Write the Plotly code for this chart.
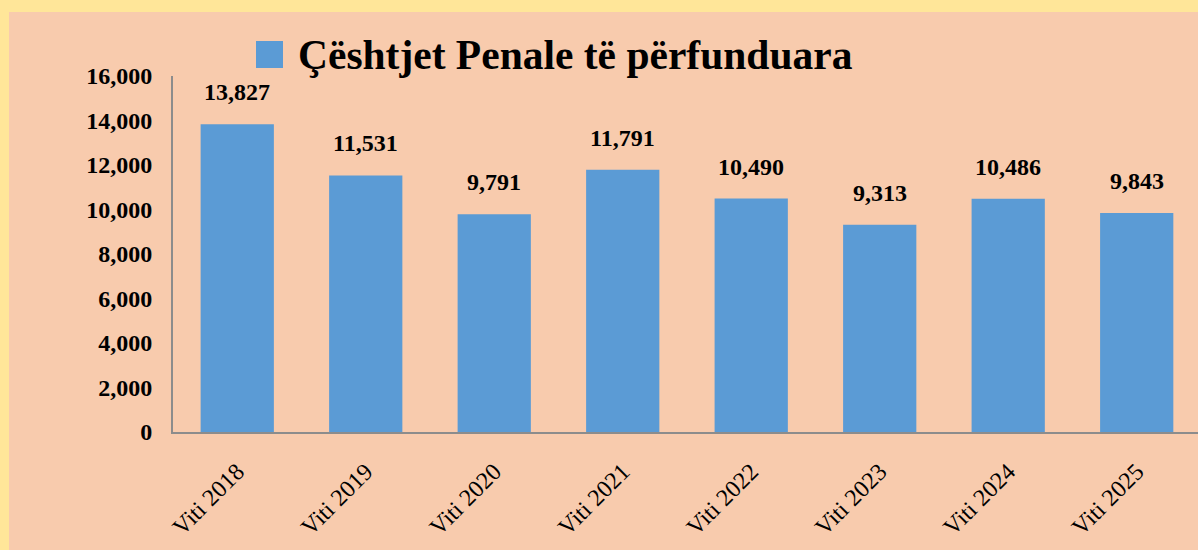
import plotly.graph_objects as go

categories = ["Viti 2018", "Viti 2019", "Viti 2020", "Viti 2021",
              "Viti 2022", "Viti 2023", "Viti 2024", "Viti 2025"]
values = [13827, 11531, 9791, 11791, 10490, 9313, 10486, 9843]
series_name = "Çështjet Penale të përfunduara"
y_ticks = [0, 2000, 4000, 6000, 8000, 10000, 12000, 14000, 16000]

W, H = 1198, 550
ML, MR, MT, MB = 173, 0, 76, 118
PW = W - ML - MR
PH = H - MT - MB

def px_x(p):
    return (p - ML) / PW

def px_y(p):
    return 1 - (p - MT) / PH

PEACH = "#F8CBAD"
YELLOW = "#FFE699"
BLUE = "#5B9BD5"
AXIS = "#8C8C8C"
FONT = "Liberation Serif"

fig = go.Figure()
fig.add_trace(go.Bar(
    x=categories, y=values, name=series_name,
    marker=dict(color=BLUE, line=dict(width=0)),
    width=0.57, showlegend=False, hoverinfo="skip",
))

annotations = []
for c, v in zip(categories, values):
    annotations.append(dict(
        x=c, y=v, xref="x", yref="y", text=f"{v:,}", showarrow=False,
        yanchor="bottom", yshift=17,
        font=dict(family=FONT, size=24, color="black", weight="bold"),
    ))
annotations.append(dict(
    x=px_x(296), y=px_y(55), xref="paper", yref="paper",
    text=series_name, showarrow=False, xanchor="left", yanchor="middle",
    font=dict(family=FONT, size=41.5, color="black", weight="bold"),
))

shapes = [
    dict(type="rect", xref="paper", yref="paper", layer="below",
         x0=px_x(0), x1=px_x(W), y0=px_y(0), y1=px_y(12),
         fillcolor=YELLOW, line=dict(width=0)),
    dict(type="rect", xref="paper", yref="paper", layer="below",
         x0=px_x(0), x1=px_x(9), y0=px_y(0), y1=px_y(H),
         fillcolor=YELLOW, line=dict(width=0)),
    dict(type="rect", xref="paper", yref="paper",
         x0=px_x(256), x1=px_x(283), y0=px_y(41), y1=px_y(68),
         fillcolor=BLUE, line=dict(width=0)),
]

fig.update_layout(
    width=W, height=H,
    margin=dict(l=ML, r=MR, t=MT, b=MB, pad=0),
    paper_bgcolor=PEACH, plot_bgcolor="rgba(0,0,0,0)",
    showlegend=False,
    annotations=annotations, shapes=shapes,
    xaxis=dict(
        type="category", range=[-0.5, 7.477],
        showline=True, linecolor=AXIS, linewidth=2,
        showgrid=False, ticks="", tickangle=-45,
        ticklabelstandoff=14,
        tickfont=dict(family=FONT, size=24, color="black"),
    ),
    yaxis=dict(
        range=[0, 16000], tickvals=y_ticks, tickformat=",",
        showline=True, linecolor=AXIS, linewidth=2,
        showgrid=False, zeroline=False, ticks="",
        ticklabelstandoff=14,
        tickfont=dict(family=FONT, size=24, color="black", weight="bold"),
    ),
    bargap=0.43,
)

fig.write_html(
    "out.html",
    config={"displayModeBar": False},
    post_script="document.body.style.margin='0';document.body.style.overflow='hidden';",
)
